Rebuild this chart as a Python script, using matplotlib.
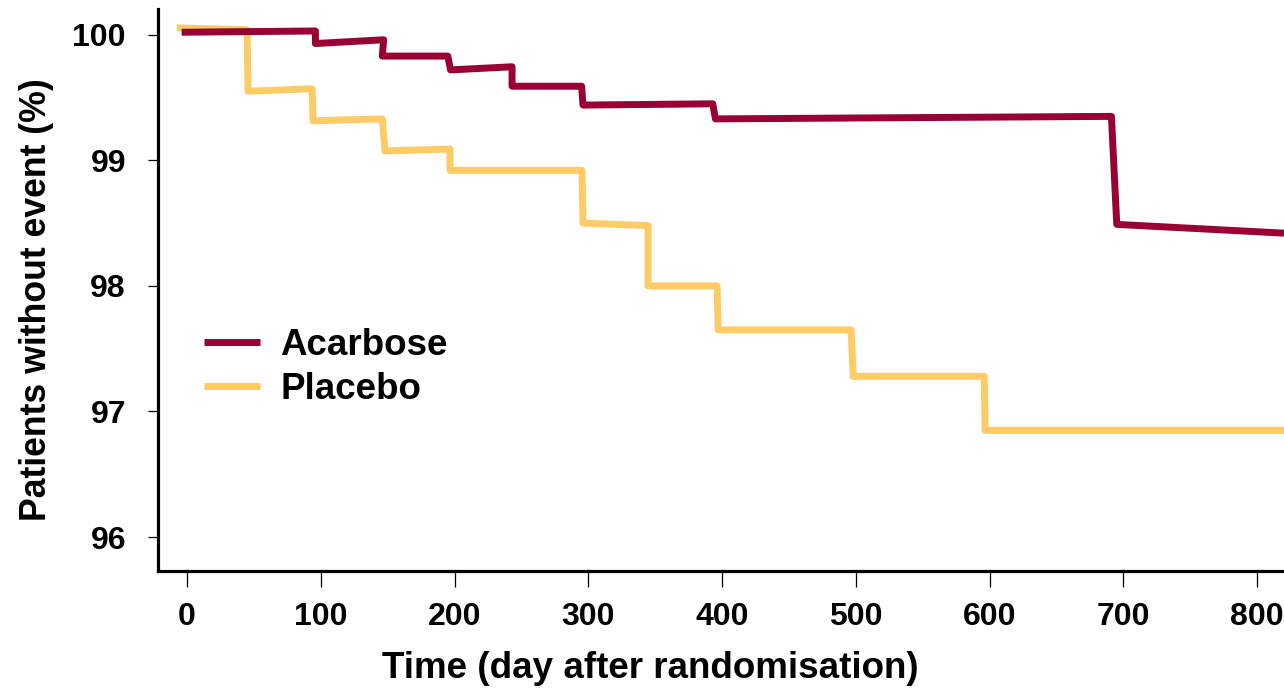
import numpy as np
import matplotlib.pyplot as plt

# step curve corners (day, % without event)
acarbose_day = [-4, 96, 96, 147, 146, 195, 197, 243, 243, 295, 296, 393, 395, 691, 695, 820]
acarbose_val = [100.02, 100.03, 99.93, 99.96, 99.83, 99.83, 99.72, 99.745, 99.59, 99.59,
                99.44, 99.45, 99.33, 99.35, 98.49, 98.42]

placebo_day = [-7.5, 45, 45.6, 93.5, 94.2, 146, 148, 196.6, 196.6, 295.3, 296, 344.7, 344.7,
               396.3, 397, 496.4, 498, 595.9, 596.6, 820]
placebo_val = [100.055, 100.04, 99.55, 99.57, 99.315, 99.33, 99.075, 99.09, 98.92, 98.92,
               98.50, 98.48, 98.00, 98.00, 97.65, 97.65, 97.28, 97.28, 96.85, 96.85]

x_ticks = [0, 100, 200, 300, 400, 500, 600, 700, 800]
y_ticks = [96, 97, 98, 99, 100]

c_acarbose = '#990033'
c_placebo = '#FFCB66'

plt.rcParams['font.family'] = ['Liberation Sans', 'DejaVu Sans']
plt.rcParams['font.weight'] = 'bold'

fig = plt.figure(figsize=(12.84, 6.89), dpi=100)
ax = fig.add_axes([0.123, 0.1713, 0.877, 0.816])

ax.plot(placebo_day, placebo_val, color=c_placebo, lw=5,
        solid_joinstyle='round', solid_capstyle='butt', label='Placebo')
ax.plot(acarbose_day, acarbose_val, color=c_acarbose, lw=5,
        solid_joinstyle='round', solid_capstyle='butt', label='Acarbose')

ax.set_xlim(-21.7, 820)
ax.set_ylim(95.73, 100.207)
ax.set_xticks(x_ticks)
ax.set_yticks(y_ticks)
ax.set_xticklabels([str(t) for t in x_ticks], fontsize=23, fontweight='bold')
ax.set_yticklabels([str(t) for t in y_ticks], fontsize=23, fontweight='bold')

ax.spines['top'].set_visible(False)
ax.spines['right'].set_visible(False)
ax.spines['left'].set_linewidth(2.3)
ax.spines['bottom'].set_linewidth(2.3)
ax.tick_params(axis='x', direction='out', length=11.5, width=0.9, pad=11)
ax.tick_params(axis='y', direction='out', length=7, width=0.9, pad=16)

ax.set_xlabel('Time (day after randomisation)', fontsize=26.5, fontweight='bold')
ax.set_ylabel('Patients without event (%)', fontsize=25.7, fontweight='bold')
ax.xaxis.set_label_coords(0.437, -0.173)
ax.yaxis.set_label_coords(-0.108, 0.482)
ax.xaxis.label.set_va('center')
ax.yaxis.label.set_va('center')

handles, labels = ax.get_legend_handles_labels()
ax.legend(handles[::-1], labels[::-1], loc='upper left', bbox_to_anchor=(0.0413, 0.432),
          frameon=False, fontsize=26.5, handlelength=1.52, handletextpad=0.54,
          labelspacing=0.24, borderpad=0, borderaxespad=0)

fig.savefig('out.png', dpi=100)
